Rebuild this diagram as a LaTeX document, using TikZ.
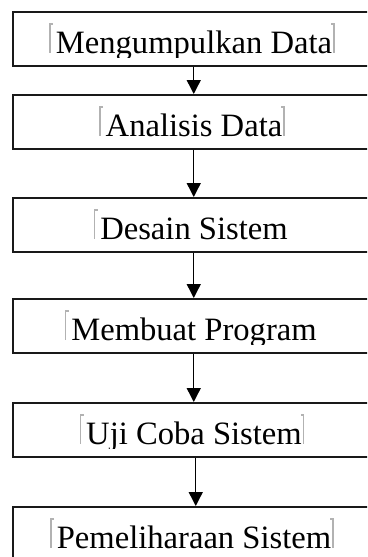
\documentclass[tikz,border=0pt]{standalone}
\usepackage{fontspec}
\setmainfont{Liberation Serif}
\usetikzlibrary{arrows.meta}
\begin{document}
\begin{tikzpicture}[x=1pt,y=-1pt,
  box/.style={draw=black!90, line width=1.5pt, minimum width=360pt, minimum height=54pt, inner sep=0pt, anchor=north west},
  lbl/.style={font=\fontsize{32.6}{36}\selectfont, inner sep=0pt, anchor=base},
  brk/.style={draw=black!30, line width=1.5pt},
  flow/.style={-{Triangle[width=14pt,length=14pt]}, line width=1.4pt}]
\clip (0,0) rectangle (367,557);
% boxes
\node[box] (b1) at (12,11) {};
\node[box] (b2) at (12,94) {};
\node[box] (b3) at (12,197) {};
\node[box] (b4) at (12,298) {};
\node[box] (b5) at (12,402) {};
\node[box] (b6) at (12,506) {};
% labels (clipped like text boxes)
\begin{scope}
  \clip (12,11) rectangle (372,57);
  \node[lbl] (t1) at (194,53) {Mengumpulkan Data};
\end{scope}
\begin{scope}
  \clip (12,94) rectangle (372,140);
  \node[lbl] (t2) at (194,136) {Analisis Data};
\end{scope}
\begin{scope}
  \clip (12,197) rectangle (372,243);
  \node[lbl] (t3) at (194,239) {Desain Sistem};
\end{scope}
\begin{scope}
  \clip (12,298) rectangle (372,344);
  \node[lbl] (t4) at (194,340) {Membuat Program};
\end{scope}
\begin{scope}
  \clip (12,402) rectangle (372,448);
  \node[lbl] (t5) at (194,444) {Uji Coba Sistem};
\end{scope}
\begin{scope}
  \clip (12,506) rectangle (372,552);
  \node[lbl] (t6) at (194,548) {Pemeliharaan Sistem};
\end{scope}
% grey text-box markers
\foreach \t in {t1,t2,t3,t4,t5,t6}{
  \draw[brk] ([xshift=-2.5pt,yshift=29pt]\t.base west) -- ([xshift=-5.5pt,yshift=29pt]\t.base west) -- ([xshift=-5.5pt]\t.base west);
}
\foreach \t in {t1,t2,t5,t6}{
  \draw[brk] ([xshift=-1pt,yshift=29pt]\t.base east) -- ([xshift=1.5pt,yshift=29pt]\t.base east) -- ([xshift=1.5pt]\t.base east);
}
% arrows
\draw[flow] ([xshift=1pt]b1.south) -- ([xshift=1pt]b2.north);
\draw[flow] ([xshift=1pt]b2.south) -- ([xshift=1pt]b3.north);
\draw[flow] ([xshift=1pt]b3.south) -- ([xshift=1pt]b4.north);
\draw[flow] ([xshift=1pt]b4.south) -- ([xshift=1pt]b5.north);
\draw[flow] ([xshift=3pt]b5.south) -- ([xshift=3pt]b6.north);
\end{tikzpicture}
\end{document}
